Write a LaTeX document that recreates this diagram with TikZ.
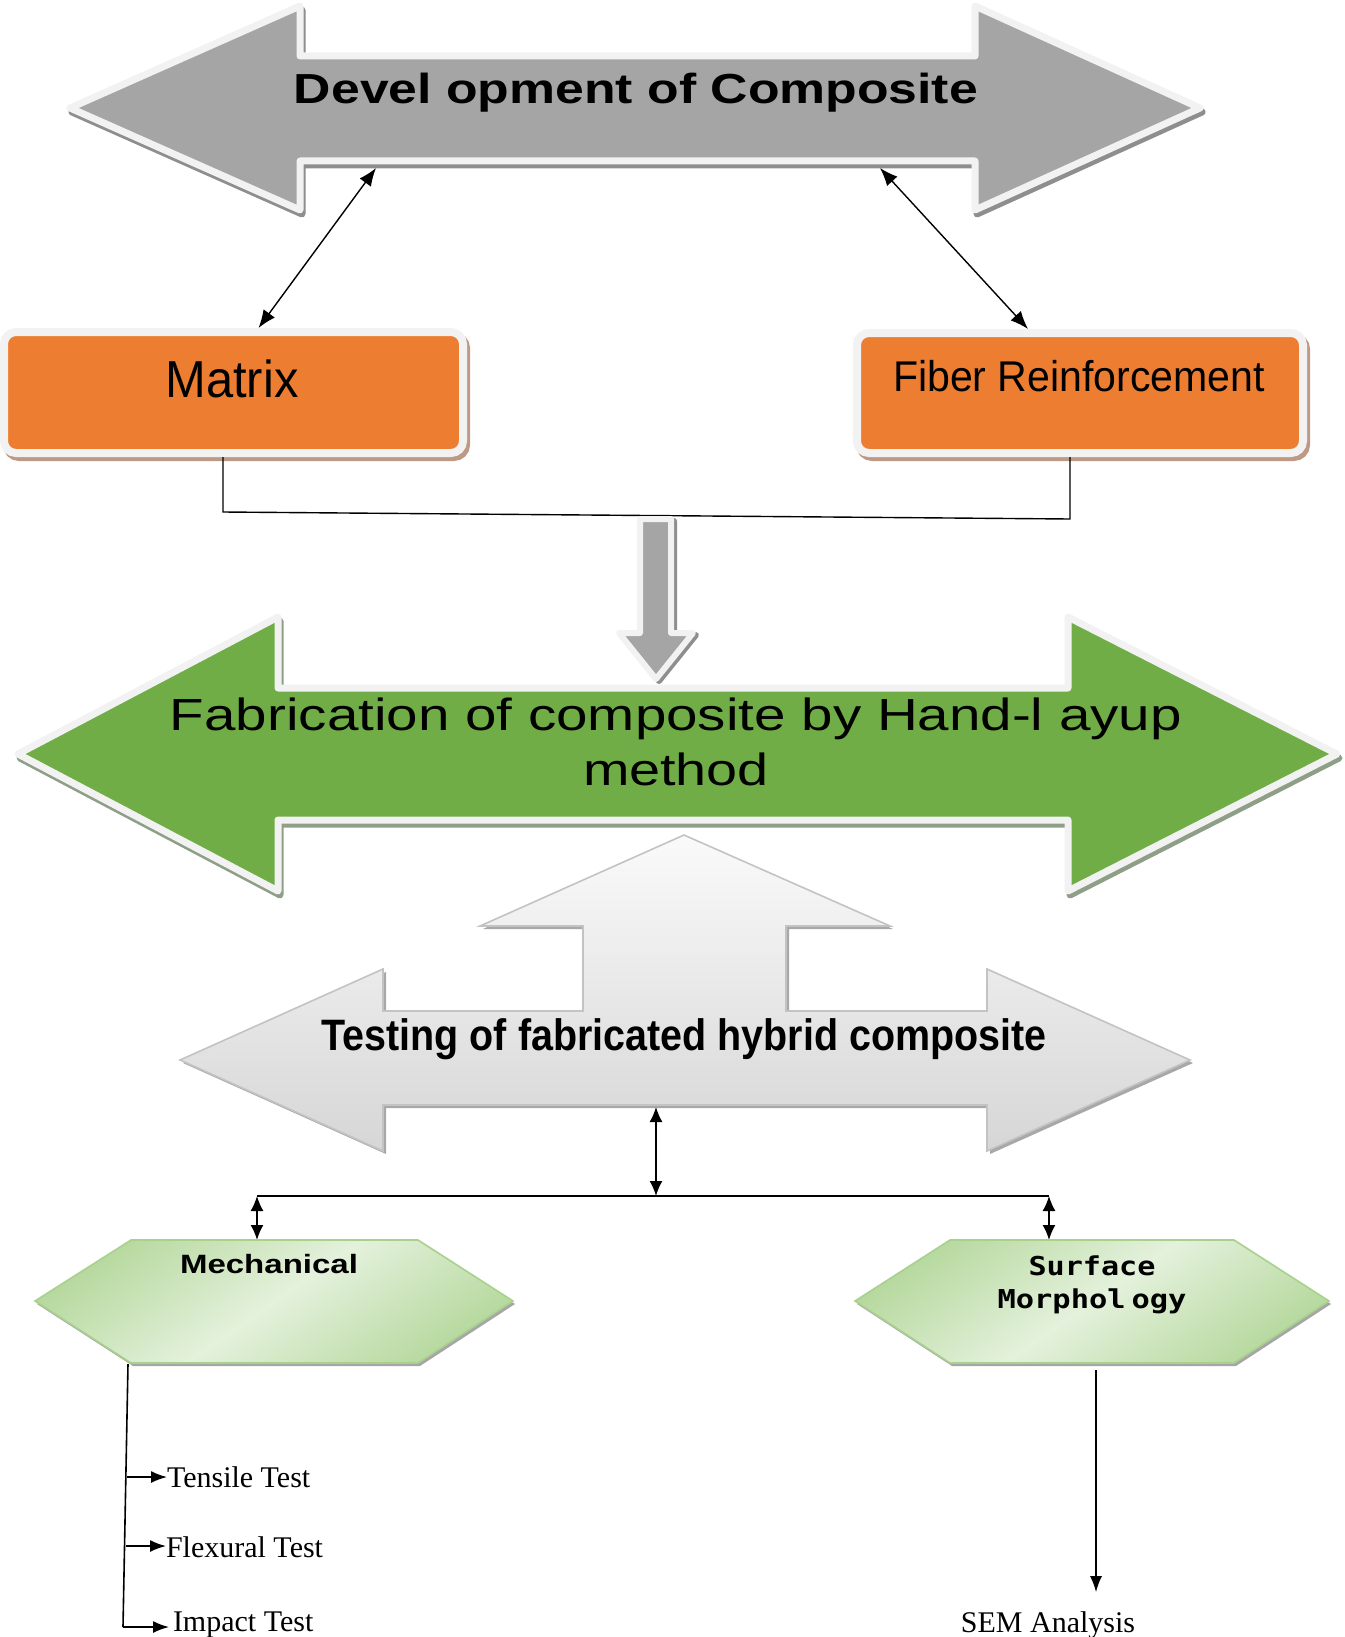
\documentclass[tikz,border=0pt]{standalone}
\usepackage{fontspec}
\usepackage{graphicx}
\usetikzlibrary{arrows.meta}
\newfontfamily\arialf{Liberation Sans}
\newfontfamily\timesf{Liberation Serif}
\newfontfamily\monof{DejaVu Sans Mono}
\definecolor{bordlt}{HTML}{F2F2F2}
\definecolor{arrgray}{HTML}{A5A5A5}
\definecolor{shgray}{HTML}{8E8E8E}
\definecolor{orng}{HTML}{ED7D31}
\definecolor{orsh}{HTML}{BE9A84}
\definecolor{grn}{HTML}{70AD47}
\definecolor{grnsh}{HTML}{8F9F87}
\definecolor{tstbord}{HTML}{C3C3C3}
\definecolor{tsttop}{HTML}{FAFAFA}
\definecolor{tstbot}{HTML}{D6D6D6}
\definecolor{tstsh}{HTML}{A8A8A8}
\definecolor{hexbord}{HTML}{A9D18E}
\definecolor{hexdark}{HTML}{B7D99F}
\definecolor{hexlight}{HTML}{E4F1DC}
\newcommand{\fitw}[2]{\resizebox{#1}{\height}{#2}}
\begin{document}
\begin{tikzpicture}[x=1pt,y=-1pt,
  conn/.style={line width=1.6pt, black},
  stip/.style={-{Latex[length=16pt,width=12pt]}},
  dtip/.style={{Latex[length=15pt,width=13pt]}-{Latex[length=15pt,width=13pt]}},
  dtipbig/.style={{Latex[length=18pt,width=14pt]}-{Latex[length=18pt,width=14pt]}},
  lbl/.style={inner sep=0pt, outer sep=0pt},
  bigbord/.style={line width=7pt, line join=round},
  obox/.style={draw=bordlt, line width=8pt, fill=orng, rounded corners=12pt, inner sep=0pt},
  toparr/.style={insert path={(70,108) -- (300,6) -- (300,56) -- (975,56) -- (975,6) -- (1200,108) -- (975,210) -- (975,161) -- (300,161) -- (300,210) -- cycle}},
  downarr/.style={insert path={(640,519) -- (671,519) -- (671,633) -- (693,633) -- (656,679) -- (619,633) -- (640,633) -- cycle}},
  grnarr/.style={insert path={(18,754) -- (278,617) -- (278,688) -- (1068,688) -- (1068,617) -- (1337,754) -- (1068,891) -- (1068,820) -- (278,820) -- (278,891) -- cycle}},
  tstarr/.style={insert path={(180,1060) -- (383,969) -- (383,1011) -- (583,1011) -- (583,926) -- (480,926) -- (684,835) -- (890,926) -- (786,926) -- (786,1011) -- (987,1011) -- (987,969) -- (1190,1060) -- (987,1151) -- (987,1105) -- (383,1105) -- (383,1151) -- cycle}},
  hexL/.style={insert path={(35,1301) -- (131,1240) -- (418,1240) -- (513,1301) -- (418,1363) -- (131,1363) -- cycle}},
  hexR/.style={insert path={(855,1301) -- (950,1240) -- (1234,1240) -- (1329,1301) -- (1234,1363) -- (950,1363) -- cycle}},
  hexshade/.style={top color=hexdark, bottom color=hexdark, middle color=hexlight, shading angle=35}
]
\useasboundingbox (0,0) rectangle (1344,1637);

% ---------- top grey double arrow ----------
\draw[bigbord, draw=shgray, fill=shgray, shift={(2,4)}, toparr];
\draw[bigbord, draw=bordlt, fill=arrgray, toparr];
\node[lbl, anchor=base] (dev) at (636,104)
  {\fitw{684pt}{\arialf\bfseries\fontsize{42}{48}\selectfont Devel opment of Composite}};

% ---------- orange boxes ----------
\draw[orsh, fill=orsh, line width=8pt, rounded corners=12pt] (7,336) rectangle (466,457);
\node[obox, minimum width=459pt, minimum height=121pt] (matrix) at (233.5,392.5) {};
\node[lbl, anchor=base] (matrixlbl) at (232,397)
  {\fitw{133pt}{\arialf\fontsize{52}{60}\selectfont Matrix}};

\draw[orsh, fill=orsh, line width=8pt, rounded corners=12pt] (860,337) rectangle (1306,457);
\node[obox, minimum width=446pt, minimum height=120pt] (fiber) at (1080,393) {};
\node[lbl, anchor=base] (fiberlbl) at (1079,391)
  {\fitw{372pt}{\arialf\fontsize{43}{50}\selectfont Fiber Reinforcement}};

% connectors top
\coordinate (devL) at (376,168);
\coordinate (devR) at (880,168);
\draw[conn, line width=1.4pt, dtipbig] (devL) -- ([xshift=25pt]matrix.north);
\draw[conn, line width=1.4pt, dtipbig] (devR) -- ([xshift=-52pt]fiber.north);

% join line
\coordinate (jl) at (223,512);
\coordinate (jr) at (1070,519);
\draw[conn, line width=1.4pt] ([xshift=-10.5pt]matrix.south) -- (jl) -- (jr) -- ([xshift=-10pt]fiber.south);

% ---------- small grey down arrow ----------
\draw[line width=6pt, line join=round, draw=shgray, fill=shgray, shift={(3,2)}, downarr];
\draw[line width=6pt, line join=round, draw=bordlt, fill=arrgray, downarr];

% ---------- green double arrow ----------
\draw[bigbord, draw=grnsh, fill=grnsh, shift={(2,4)}, grnarr];
\draw[bigbord, draw=bordlt, fill=grn, grnarr];
\node[lbl, anchor=base] (fab) at (676,730)
  {\arialf\fontsize{45}{55}\selectfont
   \begin{tabular}[t]{@{}c@{}}
   \fitw{1012pt}{Fabrication of composite by Hand-l ayup}\\
   \fitw{186pt}{method}
   \end{tabular}};

% ---------- testing arrow (combined) ----------
\fill[tstsh, shift={(3,3)}, tstarr];
\shade[top color=tsttop, bottom color=tstbot, tstarr];
\draw[tstbord, line width=1.6pt, line join=miter, tstarr];
\node[lbl, anchor=base] (test) at (684,1050)
  {\fitw{725pt}{\arialf\bfseries\fontsize{44}{50}\selectfont Testing of fabricated hybrid composite}};

% connectors to hexagons
\coordinate (tstbot) at (656,1107);
\coordinate (split) at (656,1196);
\coordinate (hl) at (257,1196);
\coordinate (hr) at (1049,1196);
\coordinate (mechtop) at (257,1240);
\coordinate (surftop) at (1049,1240);
\draw[conn, dtip] (tstbot) -- (split);
\draw[conn] (hl) -- (hr);
\draw[conn, dtip] (hl) -- (mechtop);
\draw[conn, dtip] (hr) -- (surftop);

% ---------- hexagons ----------
\fill[gray!70, shift={(2,3)}, hexL];
\shade[hexshade, hexL];
\draw[hexbord, line width=1.6pt, hexL];
\node[lbl, anchor=base] (mech) at (269,1273)
  {\fitw{178pt}{\arialf\bfseries\fontsize{26.5}{30}\selectfont Mechanical}};

\fill[gray!70, shift={(2,3)}, hexR];
\shade[hexshade, hexR];
\draw[hexbord, line width=1.6pt, hexR];
\node[lbl, anchor=base] (surf) at (1092,1275)
  {\monof\bfseries\fontsize{26}{33}\selectfont
   \begin{tabular}[t]{@{}c@{}}
   \fitw{127pt}{Surface}\\
   \fitw{189pt}{Morphol\hspace{5pt}ogy}
   \end{tabular}};

% ---------- mechanical tests ----------
\coordinate (trtop) at (128,1364);
\coordinate (trbot) at (123,1627);
\coordinate (br1) at (127,1477);
\coordinate (br2) at (126,1546);
\draw[conn] (trtop) -- (trbot);
\node[lbl, anchor=base west] (tensile) at (167,1487)
  {\timesf\fontsize{30}{33}\selectfont Tensile Test};
\node[lbl, anchor=base west] (flexural) at (166,1557)
  {\timesf\fontsize{30}{33}\selectfont Flexural Test};
\node[lbl, anchor=base west] (impact) at (173,1631)
  {\timesf\fontsize{30}{33}\selectfont Impact Test};
\draw[conn, stip] (br1) -- (tensile.west |- br1);
\draw[conn, stip] (br2) -- (flexural.west |- br2);
\draw[conn, stip, shorten >=4pt] (trbot) -- (impact.west |- trbot);

% ---------- SEM ----------
\coordinate (semtop) at (1096,1370);
\node[lbl, anchor=base] (sem) at (1048,1632)
  {\timesf\fontsize{30}{33}\selectfont SEM Analysis};
\draw[conn, stip, shorten >=19pt] (semtop) -- (semtop |- sem.north);
\end{tikzpicture}
\end{document}
